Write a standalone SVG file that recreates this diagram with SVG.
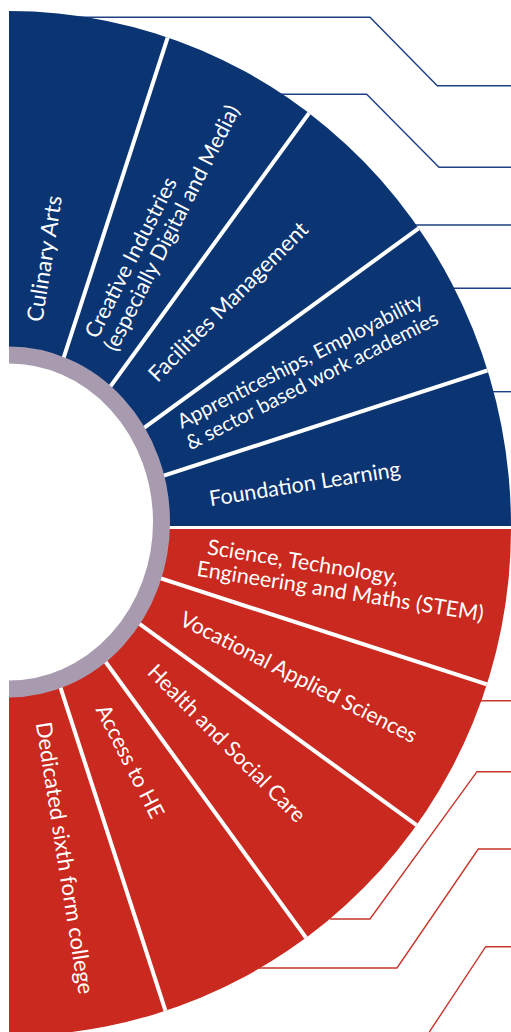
<svg xmlns="http://www.w3.org/2000/svg" width="511" height="1032" viewBox="0 0 511 1032">
  <defs>
    <style>
      .blue { fill: #0a3472; }
      .red { fill: #c9291e; }
      .divider { stroke: #ffffff; stroke-width: 4; fill: none; }
      .lead-blue { stroke: #1e3f84; stroke-width: 1.4; fill: none; }
      .lead-red { stroke: #c8352b; stroke-width: 1.4; fill: none; }
      .label { fill: #ffffff; font-family: Lato, "Liberation Sans", sans-serif; font-size: 21.5px; }
    </style>
    <clipPath id="right-of-margin">
      <rect x="9" y="0" width="502" height="1032"/>
    </clipPath>
    <clipPath id="wheel-area">
      <path d="M9,526 V11 A502,515 0 0 1 511,526 Z"/>
      <path d="M9,529 H511 A502,507 0 0 1 9,1036 Z"/>
    </clipPath>
  </defs>

  <!-- leader lines, drawn first so the wheel covers their inner ends -->
  <g id="connectors">
    <path class="lead-blue" d="M60,17.3 H370 L437.3,85.7 H511"/>
    <path class="lead-blue" d="M250,94.3 H366.7 L439,167.3 H511"/>
    <path class="lead-blue" d="M400,225 H511"/>
    <path class="lead-blue" d="M440,288.3 H511"/>
    <path class="lead-blue" d="M480,391.7 H511"/>
    <path class="lead-red" d="M470,700.7 H511"/>
    <path class="lead-red" d="M511,771.7 H477 L370,919 H330"/>
    <path class="lead-red" d="M511,849 H478.3 L397,968 H250"/>
    <path class="lead-red" d="M511,946.7 H485.7 L429.3,1032"/>
  </g>

  <!-- upper (blue) half and lower (red) half of the wheel -->
  <g id="wheel">
    <path class="blue" d="M9,526 V11 A502,515 0 0 1 511,526 Z"/>
    <path class="red" d="M9,529 H511 A502,507 0 0 1 9,1036 Z"/>
  </g>

  <!-- spokes between sectors -->
  <g id="spokes" clip-path="url(#wheel-area)">
    <line class="divider" x1="9" y1="526" x2="182.0" y2="-6.6"/>
    <line class="divider" x1="9" y1="526" x2="338.2" y2="73.0"/>
    <line class="divider" x1="9" y1="526" x2="462.1" y2="196.8"/>
    <line class="divider" x1="9" y1="526" x2="541.6" y2="352.9"/>
    <line class="divider" x1="9" y1="529" x2="541.6" y2="702.1"/>
    <line class="divider" x1="9" y1="529" x2="462.1" y2="858.2"/>
    <line class="divider" x1="9" y1="529" x2="338.2" y2="982.0"/>
    <line class="divider" x1="9" y1="529" x2="182.0" y2="1061.6"/>
  </g>

  <!-- hub -->
  <g id="hub" clip-path="url(#right-of-margin)">
    <ellipse cx="9" cy="522" rx="152.5" ry="167" fill="#ffffff" stroke="#a89bb0" stroke-width="17"/>
  </g>

  <g id="culinary-arts" transform="translate(9,526) rotate(-81)">
    <text class="label" x="206" y="1" style="font-size:22.5px">Culinary Arts</text>
  </g>
  <g id="creative-industries" transform="translate(9,526) rotate(-63)">
    <text class="label" x="206" y="-6">Creative Industries</text>
    <text class="label" x="203" y="17">(especially Digital and Media)</text>
  </g>
  <g id="facilities-management" transform="translate(9,526) rotate(-45)">
    <text class="label" x="206" y="4" style="font-size:22px">Facilities Management</text>
  </g>
  <g id="apprenticeships" transform="translate(9,526) rotate(-27)" style="font-size:20.3px">
    <text class="label" x="198" y="-8" style="font-size:20.3px">Apprenticeships, Employability</text>
    <text class="label" x="196" y="15" style="font-size:20.3px">&amp; sector based work academies</text>
  </g>
  <g id="foundation-learning" transform="translate(9,526) rotate(-9)">
    <text class="label" x="202" y="12">Foundation Learning</text>
  </g>
  <g id="stem" transform="translate(9,529) rotate(9)">
    <text class="label" x="199" y="-6">Science, Technology,</text>
    <text class="label" x="192" y="17">Engineering and Maths (STEM)</text>
  </g>
  <g id="vocational-applied-sciences" transform="translate(9,529) rotate(27)">
    <text class="label" x="194" y="8">Vocational Applied Sciences</text>
  </g>
  <g id="health-social-care" transform="translate(9,529) rotate(45)">
    <text class="label" x="199" y="5">Health and Social Care</text>
  </g>
  <g id="access-to-he" transform="translate(9,529) rotate(63)">
    <text class="label" x="200" y="5">Access to HE</text>
  </g>
  <g id="sixth-form-college" transform="translate(9,529) rotate(81)">
    <text class="label" x="196" y="4" style="font-size:22px">Dedicated sixth form college</text>
  </g>
</svg>
